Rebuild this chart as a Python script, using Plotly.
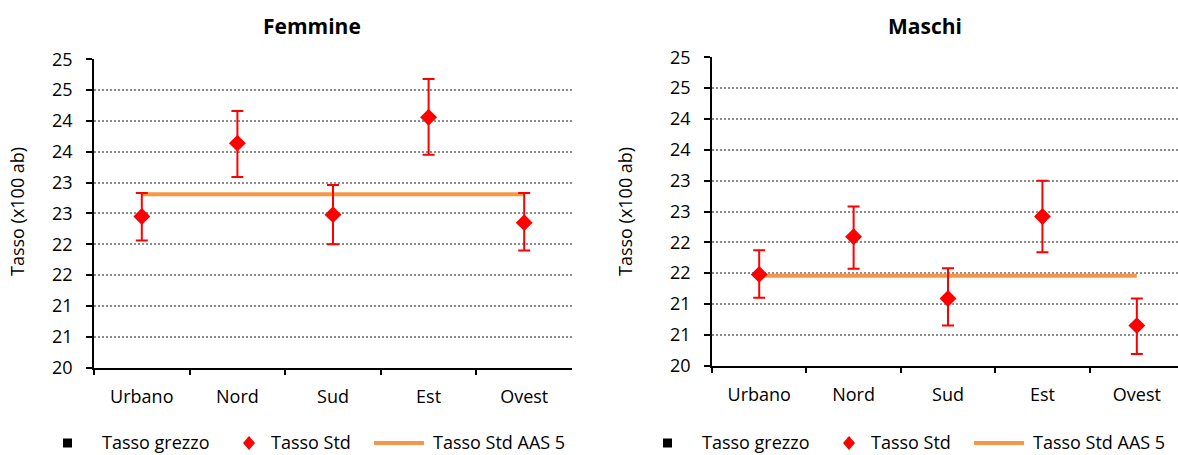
import plotly.graph_objects as go

# ---- data -------------------------------------------------------------
categories = ["Urbano", "Nord", "Sud", "Est", "Ovest"]

f_std = [22.45, 23.64, 22.48, 24.06, 22.35]
f_upper = [22.83, 24.16, 22.96, 24.68, 22.83]
f_lower = [22.06, 23.09, 22.00, 23.45, 21.90]
f_aas = [22.81, 22.81, 22.81, 22.81, 22.81]

m_std = [21.48, 22.09, 21.09, 22.42, 20.65]
m_upper = [21.87, 22.58, 21.58, 23.00, 21.09]
m_lower = [21.10, 21.57, 20.65, 21.84, 20.19]
m_aas = [21.46, 21.46, 21.46, 21.46, 21.46]

y_tickvals = [20, 20.5, 21, 21.5, 22, 22.5, 23, 23.5, 24, 24.5, 25]
y_ticktext = ["20", "21", "21", "22", "22", "23", "23", "24", "24", "25", "25"]

panel_titles = ["Femmine", "Maschi"]
y_title = "Tasso (x100 ab)"
legend_labels = ["Tasso grezzo", "Tasso Std", "Tasso Std AAS 5"]

# ---- styling ----------------------------------------------------------
W, H = 1178, 455
FONT = "Open Sans"
RED = "#FF0000"
ORANGE = "#F79646"
GRID = "#8C8C8C"


def px(x):
    return x / W


def py(y):
    return 1 - y / H


fig = go.Figure()


def add_panel(std, upper, lower, aas, xa, ya):
    fig.add_trace(go.Scatter(
        x=categories, y=aas, mode="lines",
        line=dict(color=ORANGE, width=4),
        xaxis=xa, yaxis=ya, showlegend=False, hoverinfo="skip"))
    fig.add_trace(go.Scatter(
        x=categories, y=std, mode="markers",
        marker=dict(symbol="diamond", size=13, color=RED),
        error_y=dict(type="data", symmetric=False,
                     array=[u - v for u, v in zip(upper, std)],
                     arrayminus=[v - l for v, l in zip(std, lower)],
                     color=RED, thickness=2, width=6),
        xaxis=xa, yaxis=ya, showlegend=False))


add_panel(f_std, f_upper, f_lower, f_aas, "x", "y")
add_panel(m_std, m_upper, m_lower, m_aas, "x2", "y2")

xcommon = dict(type="category", categoryorder="array", categoryarray=categories,
               tickson="boundaries", ticks="outside", ticklen=6, tickwidth=1.5,
               tickcolor="black", showline=True, linecolor="black", linewidth=1.5,
               showgrid=False, zeroline=False, fixedrange=True, automargin=False,
               tickfont=dict(family=FONT, size=18, color="black"),
               ticklabelstandoff=12)
ycommon = dict(range=[20, 25], tickmode="array", tickvals=y_tickvals, ticktext=y_ticktext,
               ticks="outside", ticklen=6, tickwidth=1.5, tickcolor="black",
               showline=True, linecolor="black", linewidth=1.5,
               showgrid=True, gridcolor=GRID, griddash="2px,2px", gridwidth=1.5,
               zeroline=False, fixedrange=True, automargin=False,
               tickfont=dict(family=FONT, size=18, color="black"),
               ticklabelstandoff=10)

fig.update_layout(
    width=W, height=H,
    margin=dict(l=0, r=0, t=0, b=0),
    paper_bgcolor="white", plot_bgcolor="white",
    showlegend=False,
    xaxis=dict(xcommon, domain=[px(94), px(572)], range=[-0.5, 4.5], anchor="y"),
    yaxis=dict(ycommon, domain=[py(367.5), py(59.3)], anchor="x"),
    xaxis2=dict(xcommon, domain=[px(712), 1.0], range=[-0.5, 4.436], anchor="y2"),
    yaxis2=dict(ycommon, domain=[py(365.7), py(57.3)], anchor="x2"),
)

annotations = []
shapes = []

# panel titles
for title, cx in zip(panel_titles, [312, 925]):
    annotations.append(dict(text=f"<b>{title}</b>", x=px(cx), y=py(26),
                            xref="paper", yref="paper", xanchor="center", yanchor="middle",
                            showarrow=False, font=dict(family=FONT, size=21, color="black")))

# y-axis titles
for cx in [17, 625]:
    annotations.append(dict(text=y_title, x=px(cx), y=py(212), textangle=-90,
                            xref="paper", yref="paper", xanchor="center", yanchor="middle",
                            showarrow=False, font=dict(family=FONT, size=18, color="black")))

# legends under each panel
LY = 443
for off in [0, 600]:
    # square marker
    shapes.append(dict(type="rect", xref="paper", yref="paper",
                       x0=px(off + 63), x1=px(off + 72), y0=py(LY - 4.5), y1=py(LY + 4.5),
                       fillcolor="black", line=dict(width=0)))
    # diamond marker
    cx = off + 249
    shapes.append(dict(type="path", xref="paper", yref="paper",
                       path=(f"M {px(cx - 6)} {py(LY)} L {px(cx)} {py(LY - 7)} "
                             f"L {px(cx + 6)} {py(LY)} L {px(cx)} {py(LY + 7)} Z"),
                       fillcolor=RED, line=dict(width=0)))
    # line sample
    shapes.append(dict(type="line", xref="paper", yref="paper",
                       x0=px(off + 374), x1=px(off + 424), y0=py(LY), y1=py(LY),
                       line=dict(color=ORANGE, width=4)))
    for label, tx in zip(legend_labels, [100, 269, 431]):
        annotations.append(dict(text=label, x=px(off + tx), y=py(LY - 1),
                                xref="paper", yref="paper", xanchor="left", yanchor="middle",
                                showarrow=False, font=dict(family=FONT, size=18, color="black")))

fig.update_layout(annotations=annotations, shapes=shapes)

fig.write_html("out.html")
